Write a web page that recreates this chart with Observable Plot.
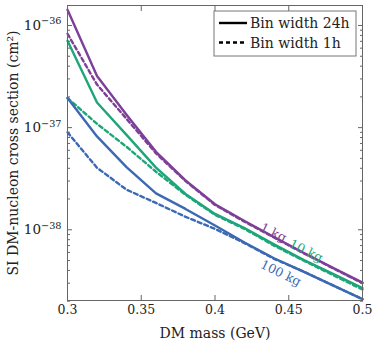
<!DOCTYPE html>
<html><head><meta charset="utf-8">
<script src="https://cdn.jsdelivr.net/npm/d3@7"></script>
<script src="https://cdn.jsdelivr.net/npm/@observablehq/plot@0.6"></script>
<style>body{margin:0;background:#fff}#chart{width:374px;height:352px}</style>
</head><body><div id="chart"></div>
<script>
// DM mass (GeV)
const masses = [0.30, 0.32, 0.34, 0.36, 0.38, 0.40, 0.42, 0.44, 0.46, 0.48, 0.50];
// SI DM-nucleon cross section (cm^2)
const kg1_24h   = [1.43e-36, 3.2e-37, 1.34e-37, 5.8e-38, 3.05e-38, 1.78e-38, 1.22e-38, 8.5e-39, 5.96e-39, 4.24e-39, 3.04e-39];
const kg1_1h    = [8.3e-37, 2.64e-37, 1.22e-37, 5.6e-38, 3.0e-38, 1.75e-38, 1.2e-38, 8.4e-39, 5.9e-39, 4.2e-39, 3.0e-39];
const kg10_24h  = [7.1e-37, 1.76e-37, 8.5e-38, 4.06e-38, 2.24e-38, 1.43e-38, 1.04e-38, 7.2e-39, 5.08e-39, 3.7e-39, 2.69e-39];
const kg10_1h   = [1.95e-37, 1.09e-37, 6.5e-38, 3.7e-38, 2.2e-38, 1.4e-38, 1.02e-38, 7.0e-39, 5.0e-39, 3.6e-39, 2.6e-39];
const kg100_24h = [1.95e-37, 8.2e-38, 4.1e-38, 2.27e-38, 1.6e-38, 1.1e-38, 7.5e-39, 5.26e-39, 3.9e-39, 2.85e-39, 2.09e-39];
const kg100_1h  = [9.0e-38, 4.05e-38, 2.47e-38, 1.83e-38, 1.34e-38, 1.02e-38, 7.4e-39, 5.2e-39, 3.9e-39, 2.85e-39, 2.09e-39];

const targets = ["1 kg", "10 kg", "100 kg"];
const colors = ["#7d3f98", "#1ea57a", "#3c69b3"];
const binNames = ["Bin width 24h", "Bin width 1h"];

const xTicks = [0.3, 0.35, 0.4, 0.45, 0.5];
const yMajor = [1e-38, 1e-37, 1e-36];
const yMinor = [];
for (const k of [-39, -38, -37, -36]) for (let m = 2; m <= 9; m++) yMinor.push(m * Math.pow(10, k));

// curve labels
const labelText = ["1 kg", "10 kg", "100 kg"];
const labelMass = [0.4395, 0.4617, 0.4446];
const labelSigma = [9.35e-39, 6.2e-39, 3.76e-39];

const series = [
  {target: "1 kg", dashed: false, values: kg1_24h},
  {target: "1 kg", dashed: true, values: kg1_1h},
  {target: "10 kg", dashed: false, values: kg10_24h},
  {target: "10 kg", dashed: true, values: kg10_1h},
  {target: "100 kg", dashed: false, values: kg100_24h},
  {target: "100 kg", dashed: true, values: kg100_1h}
];

const fmtPow = d => "10^" + Math.round(Math.log10(d));

const lineMarks = series.map(s => Plot.line(
  s.values.map((v, i) => ({mass: masses[i], sigma: v, target: s.target})),
  {x: "mass", y: "sigma", stroke: "target", strokeWidth: 2.4,
   strokeDasharray: s.dashed ? "4,3" : null, strokeLinejoin: "round"}
));

const labels = labelText.map((t, i) => ({text: t, mass: labelMass[i], sigma: labelSigma[i], target: targets[i]}));

const plot = Plot.plot({
  width: 374, height: 352,
  marginLeft: 67, marginRight: 12, marginTop: 5, marginBottom: 52,
  style: {fontFamily: "DejaVu Serif", fontSize: "12.5px", background: "#fff", color: "#222"},
  x: {domain: [0.3, 0.5], label: null},
  y: {type: "log", domain: [2.03e-39, 1.57e-36], label: null},
  color: {domain: targets, range: colors},
  marks: [
    ...lineMarks,
    Plot.text(labels, {x: "mass", y: "sigma", text: "text", fill: "target", rotate: 26, fontSize: 12.5}),
    Plot.axisX({ticks: xTicks, tickSize: 0, tickPadding: 5, tickFormat: d => String(d), label: null}),
    Plot.axisX({ticks: xTicks, tickSize: -5, tickFormat: () => "", stroke: "#666", label: null}),
    Plot.axisX({anchor: "top", ticks: xTicks, tickSize: -5, tickFormat: () => "", stroke: "#666", label: null}),
    Plot.axisY({ticks: yMajor, tickSize: 0, tickPadding: 6, tickFormat: fmtPow, fontSize: 13.5, label: null, ariaLabel: "ypow"}),
    Plot.axisY({ticks: yMajor, tickSize: -5, tickFormat: () => "", stroke: "#666", label: null}),
    Plot.axisY({ticks: yMinor, tickSize: -3, tickFormat: () => "", stroke: "#666", label: null}),
    Plot.axisY({anchor: "right", ticks: yMajor, tickSize: -5, tickFormat: () => "", stroke: "#666", label: null}),
    Plot.axisY({anchor: "right", ticks: yMinor, tickSize: -3, tickFormat: () => "", stroke: "#666", label: null}),
    Plot.text(["DM mass (GeV)"], {frameAnchor: "bottom", lineAnchor: "middle", dy: 33, fontSize: 14, fill: "#222"}),
    Plot.text(["SI DM-nucleon cross section (cm\u00B2)"], {frameAnchor: "left", textAnchor: "middle", lineAnchor: "middle", rotate: -90, dx: -54, fontSize: 14, fill: "#222"}),
    Plot.frame({stroke: "#666"})
  ]
});

const svgSel = d3.select(plot);

// render "10^k" tick labels with a raised exponent
svgSel.selectAll("text").each(function() {
  const t = this.textContent;
  const m = /^10\^(-?\d+)$/.exec(t);
  if (!m) return;
  const el = d3.select(this);
  el.text(null);
  el.append("tspan").text("10");
  el.append("tspan").attr("dy", "-0.55em").attr("font-size", "0.72em").text(m[1].replace("-", "\u2212"));
});

// in-plot legend, anchored to the frame's top-right corner
const xr = plot.scale("x").range, yr = plot.scale("y").range;
const frameRight = Math.max(...xr), frameTop = Math.min(...yr);
const lg = svgSel.append("g").attr("font-family", "DejaVu Serif").attr("font-size", 14)
  .attr("fill", "#222").attr("text-anchor", "start");
const bw = 142, bh = 45;
const bx = frameRight - 6 - bw, by = frameTop + 6;
lg.append("rect").attr("x", bx).attr("y", by).attr("width", bw).attr("height", bh)
  .attr("fill", "#fff").attr("stroke", "#777").attr("stroke-width", 1);
binNames.forEach((name, i) => {
  const cy = by + 12 + i * 19.5;
  lg.append("line").attr("x1", bx + 5).attr("x2", bx + 33).attr("y1", cy).attr("y2", cy)
    .attr("stroke", "#000").attr("stroke-width", 2.4)
    .attr("stroke-dasharray", i === 1 ? "4,3" : null);
  lg.append("text").attr("x", bx + 36).attr("y", cy + 5).attr("text-anchor", "start").text(name);
});

document.getElementById("chart").appendChild(plot);
</script>
</body></html>
